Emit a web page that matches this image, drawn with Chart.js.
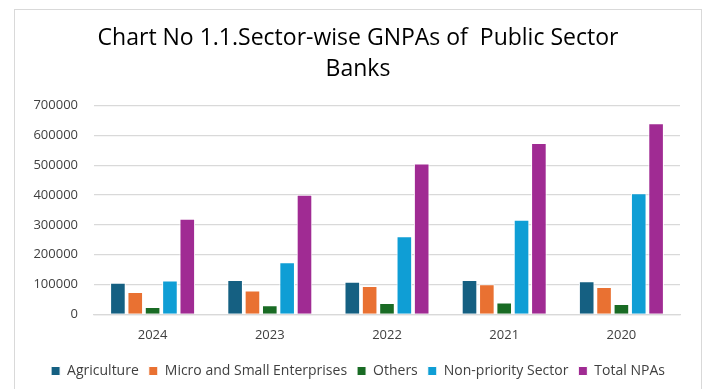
<!DOCTYPE html>
<html>
<head>
<meta charset="utf-8">
<script src="https://cdn.jsdelivr.net/npm/chart.js@4"></script>
<style>
  html, body { margin: 0; padding: 0; background: #fff; }
  #box {
    position: absolute; left: 14px; top: 9px; width: 686px; height: 385px;
    border: 1px solid #d9d9d9; border-bottom: none;
  }
</style>
</head>
<body>
<div id="box"><canvas id="myChart" width="686" height="378"></canvas></div>
<script>
// years shown on the x axis (latest first, as in the source)
const years = ["2024", "2023", "2022", "2021", "2020"];
// GNPAs by sector
const agriculture = [106000, 115000, 109500, 115000, 111500];
const microSmall = [74700, 80000, 95000, 101500, 91500];
const others = [24500, 31000, 38000, 40000, 34500];
const nonPriority = [114000, 175000, 262000, 317000, 406000];
const totalNPAs = [320500, 401000, 505700, 575000, 640700];
const yTicks = [0, 100000, 200000, 300000, 400000, 500000, 600000, 700000];

const FONT = "'Open Sans', sans-serif";

function ds(label, values, colour) {
  return {
    label: label,
    data: values,
    backgroundColor: colour,
    borderColor: '#ffffff',
    borderWidth: 1,
    barPercentage: 0.9,
    categoryPercentage: 0.74
  };
}

const data = {
  labels: years,
  datasets: [
    ds('Agriculture', agriculture, '#156082'),
    ds('Micro and Small Enterprises', microSmall, '#E97132'),
    ds('Others', others, '#196B24'),
    ds('Non-priority Sector', nonPriority, '#0F9ED5'),
    ds('Total NPAs', totalNPAs, '#A02B93')
  ]
};

const config = {
  type: 'bar',
  data: data,
  options: {
    responsive: false,
    animation: false,
    plugins: {
      title: {
        display: true,
        text: ['Chart No 1.1.Sector-wise GNPAs of  Public Sector', 'Banks'],
        color: '#000000',
        font: { family: FONT, size: 23, weight: 'normal', lineHeight: 1.34 },
        padding: { top: 13, bottom: 21 }
      },
      legend: {
        position: 'bottom',
        labels: {
          color: '#404040',
          font: { family: FONT, size: 14 },
          boxWidth: 9,
          boxHeight: 9,
          padding: 10
        }
      },
      tooltip: { enabled: false }
    },
    scales: {
      x: {
        // extra room under the year labels, before the legend
        afterFit: function(axis) { axis.height += 6; },
        grid: { display: false },
        border: { color: '#d9d9d9', width: 1.3 },
        ticks: { color: '#404040', font: { family: FONT, size: 13 }, padding: 5 }
      },
      y: {
        min: 0,
        max: 700000,
        afterBuildTicks: function(axis) {
          axis.ticks = yTicks.map(v => ({ value: v }));
        },
        afterFit: function(axis) { axis.width = 79; },
        grid: { color: '#d9d9d9', lineWidth: 1.3, drawTicks: false },
        border: { display: false },
        ticks: {
          color: '#404040',
          font: { family: FONT, size: 13 },
          padding: 16,
          callback: function(value) { return String(value); }
        }
      },
      // empty right-hand axis, only to leave the right margin inside the plot box
      yRight: {
        position: 'right',
        display: true,
        afterFit: function(axis) { axis.width = 21; },
        grid: { display: false },
        border: { display: false },
        ticks: { display: false }
      }
    }
  }
};

const ctx = document.getElementById("myChart").getContext("2d");
const myChart = new Chart(ctx, config);
</script>
</body>
</html>
